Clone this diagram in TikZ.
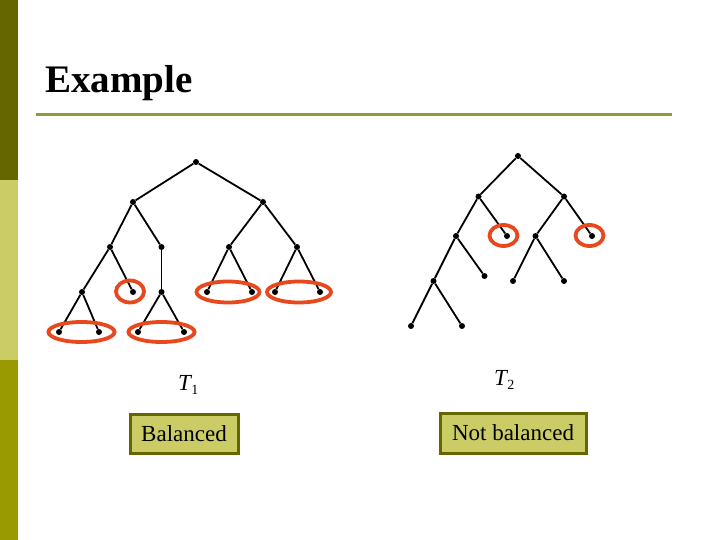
\documentclass[tikz,border=0pt]{standalone}
\usepackage{fontspec}
\setmainfont{Liberation Serif}
\definecolor{barA}{RGB}{102,102,0}
\definecolor{barB}{RGB}{204,204,102}
\definecolor{barC}{RGB}{153,153,0}
\definecolor{ruleC}{RGB}{153,153,51}
\definecolor{hlC}{RGB}{232,72,30}
\definecolor{boxF}{RGB}{204,204,102}
\definecolor{boxD}{RGB}{102,102,0}
\tikzset{
  dot/.style={circle,fill=black,inner sep=0pt,minimum size=6pt},
  edge/.style={line width=1.8pt},
  thinedge/.style={line width=1.1pt},
  hl/.style={draw=hlC,line width=3.8pt},
  lbl/.style={font=\fontsize{23}{26}\selectfont,inner sep=0pt},
  tagbox/.style={draw=boxD,fill=boxF,line width=3pt,font=\fontsize{23}{26}\selectfont,inner sep=0pt,anchor=north west}
}
\begin{document}
\begin{tikzpicture}[x=1pt,y=-1pt]
\useasboundingbox (0,0) rectangle (720,540);
% left bar
\fill[barA] (0,0) rectangle (18,180);
\fill[barB] (0,180) rectangle (18,360);
\fill[barC] (0,360) rectangle (18,540);
% title
\node[anchor=base west,inner sep=0pt,font=\bfseries\fontsize{39}{44}\selectfont] (title) at (45,93) {Example};
\draw[ruleC,line width=3pt] (36,114.5) -- (672,114.5);
% tree T1
\node[dot] (a) at (196,162) {};
\node[dot] (b) at (133,202) {};
\node[dot] (c) at (263,202) {};
\node[dot] (d) at (110,247) {};
\node[dot] (e) at (161.5,247) {};
\node[dot] (f) at (229,247) {};
\node[dot] (g) at (297,247) {};
\node[dot] (h) at (82,292) {};
\node[dot] (i) at (133,292) {};
\node[dot] (j) at (161.5,292) {};
\node[dot] (k) at (207,292) {};
\node[dot] (l) at (252,292) {};
\node[dot] (m) at (275,292) {};
\node[dot] (n) at (320,292) {};
\node[dot] (o) at (59,332) {};
\node[dot] (p) at (99,332) {};
\node[dot] (q) at (138,332) {};
\node[dot] (r) at (184,332) {};
\draw[edge] (a) -- (b); \draw[edge] (a) -- (c);
\draw[edge] (b) -- (d); \draw[edge] (b) -- (e);
\draw[edge] (c) -- (f); \draw[edge] (c) -- (g);
\draw[edge] (d) -- (h); \draw[edge] (d) -- (i);
\draw[thinedge] (e) -- (j);
\draw[edge] (f) -- (k); \draw[edge] (f) -- (l);
\draw[edge] (g) -- (m); \draw[edge] (g) -- (n);
\draw[edge] (h) -- (o); \draw[edge] (h) -- (p);
\draw[edge] (j) -- (q); \draw[edge] (j) -- (r);
\draw[hl] (81.5,332) ellipse [x radius=33, y radius=10];
\draw[hl] (161.5,332) ellipse [x radius=33, y radius=10];
\draw[hl] (130,291.5) ellipse [x radius=14, y radius=11];
\draw[hl] (228,292) ellipse [x radius=31.5, y radius=10.5];
\draw[hl] (299,292) ellipse [x radius=32, y radius=10.5];
% tree T2
\node[dot] (A) at (518,156) {};
\node[dot] (B) at (478.5,196.5) {};
\node[dot] (C) at (564,196.5) {};
\node[dot] (D) at (456,236) {};
\node[dot] (E) at (507,236) {};
\node[dot] (F) at (535.5,236) {};
\node[dot] (G) at (592,236) {};
\node[dot] (H) at (433.5,281) {};
\node[dot] (I) at (484.5,276) {};
\node[dot] (J) at (513,281) {};
\node[dot] (K) at (564,281) {};
\node[dot] (L) at (411,326) {};
\node[dot] (M) at (462,326) {};
\draw[edge] (A) -- (B); \draw[edge] (A) -- (C);
\draw[edge] (B) -- (D); \draw[edge] (B) -- (E);
\draw[edge] (C) -- (F); \draw[edge] (C) -- (G);
\draw[edge] (D) -- (H); \draw[edge] (D) -- (I);
\draw[edge] (F) -- (J); \draw[edge] (F) -- (K);
\draw[edge] (H) -- (L); \draw[edge] (H) -- (M);
\draw[hl] (503.5,235.5) ellipse [x radius=14, y radius=10.5];
\draw[hl] (589.5,235.5) ellipse [x radius=14, y radius=10.5];
% labels
\node[lbl,anchor=base west] (t1) at (178,390) {\itshape T\kern0.5pt\raisebox{-4pt}{\upshape\fontsize{14}{16}\selectfont 1}};
\node[lbl,anchor=base west] (t2) at (494,385) {\itshape T\kern0.5pt\raisebox{-4pt}{\upshape\fontsize{14}{16}\selectfont 2}};
\node[tagbox,minimum width=108pt,minimum height=39pt] (bal) at (128.5,412.5) {Balanced};
\node[tagbox,minimum width=146pt,minimum height=40pt] (nbal) at (438.5,411.5) {Not balanced};
\end{tikzpicture}
\end{document}
